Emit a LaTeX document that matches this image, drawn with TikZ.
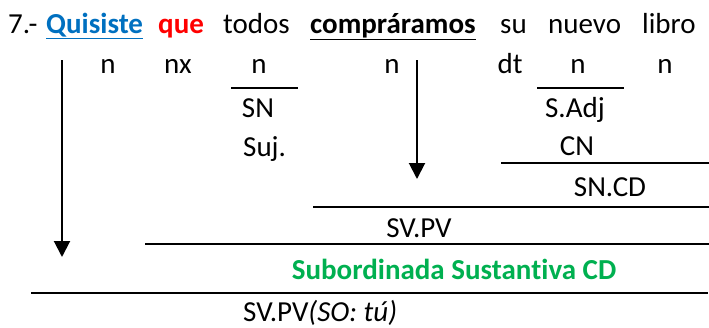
\documentclass[tikz,border=0pt]{standalone}
\usepackage{fontspec}
\setmainfont{Carlito}[Ligatures=NoCommon]
\usepackage{xcolor}
\usepackage{tikz}
\usetikzlibrary{arrows.meta}

\definecolor{azul}{RGB}{0,112,192}
\definecolor{rojo}{RGB}{255,0,0}
\definecolor{verde}{RGB}{0,176,80}

\begin{document}
\begin{tikzpicture} [x=1pt,y=-1pt,
  wd/.style={inner sep=0pt,anchor=base,font=\fontsize{29}{34}\selectfont},
  raya/.style={line width=2pt},
  flecha/.style={line width=2pt,-{Triangle[width=16pt,length=16pt]}}]
  \useasboundingbox (0,0) rectangle (709,327);

  % la oracion
  \node[wd,anchor=base west] (num)    at (8,33)   {7.-};
  \node[wd,anchor=base west,text=azul] (quis) at (46,33) {\textbf{\underline{Quisiste}}};
  \node[wd,anchor=base west,text=rojo] (que)  at (158,33) {\textbf{que}};
  \node[wd,anchor=base west] (todos)  at (223,33) {todos};
  \node[wd,anchor=base west] (compr)  at (310,33) {\textbf{\underline{compráramos}}};
  \node[wd,anchor=base west] (su)     at (500,33) {su};
  \node[wd,anchor=base west] (nuevo)  at (548,33) {nuevo};
  \node[wd,anchor=base west] (libro)  at (642,33) {libro};

  % categorias
  \node[wd] (n1)  at (108,73) {n};
  \node[wd] (nx)  at (178,73) {nx};
  \node[wd] (n2)  at (259,73) {n};
  \node[wd] (n3)  at (392,73) {n};
  \node[wd] (dt)  at (510,73) {dt};
  \node[wd] (n4)  at (578,73) {n};
  \node[wd] (n5)  at (665,73) {n};

  % funciones
  \node[wd] (sn)    at (258,117) {SN};
  \node[wd] (sadj)  at (575,117) {S.Adj};
  \node[wd,anchor=base west] (suj) at (243,156) {Suj.};
  \node[wd] (cn)    at (577,155) {CN};
  \node[wd] (sncd)  at (610,196) {SN.CD};
  \node[wd] (svpv)  at (419,237) {SV.PV};
  \node[wd,text=verde] (sub) at (454,279) {\textbf{Subordinada Sustantiva CD}};
  \node[wd,anchor=base west] (svpv0) at (243,321) {SV.PV\textit{(SO: tú)}};

  \coordinate (sn-a)   at (231,88);  \coordinate (sn-b)   at (298,88);
  \coordinate (sadj-a) at (537,88);  \coordinate (sadj-b) at (624,88);
  \coordinate (cd-a)   at (501,163); \coordinate (cd-b)   at (709,163);
  \coordinate (pv-a)   at (313,207); \coordinate (pv-b)   at (709,207);
  \coordinate (sub-a)  at (145,244); \coordinate (sub-b)  at (709,244);
  \coordinate (or-a)   at (31,293);  \coordinate (or-b)   at (708,293);
  \coordinate (v1-a)   at (62,60);   \coordinate (v1-b)   at (62,257);
  \coordinate (v2-a)   at (417,60);  \coordinate (v2-b)   at (417,179);

  \draw[raya] (sn-a) -- (sn-b);
  \draw[raya] (sadj-a) -- (sadj-b);
  \draw[raya] (cd-a) -- (cd-b);
  \draw[raya] (pv-a) -- (pv-b);
  \draw[raya] (sub-a) -- (sub-b);
  \draw[raya] (or-a) -- (or-b);

  \draw[flecha] (v1-a) -- (v1-b);
  \draw[flecha] (v2-a) -- (v2-b);
\end{tikzpicture}
\end{document}
